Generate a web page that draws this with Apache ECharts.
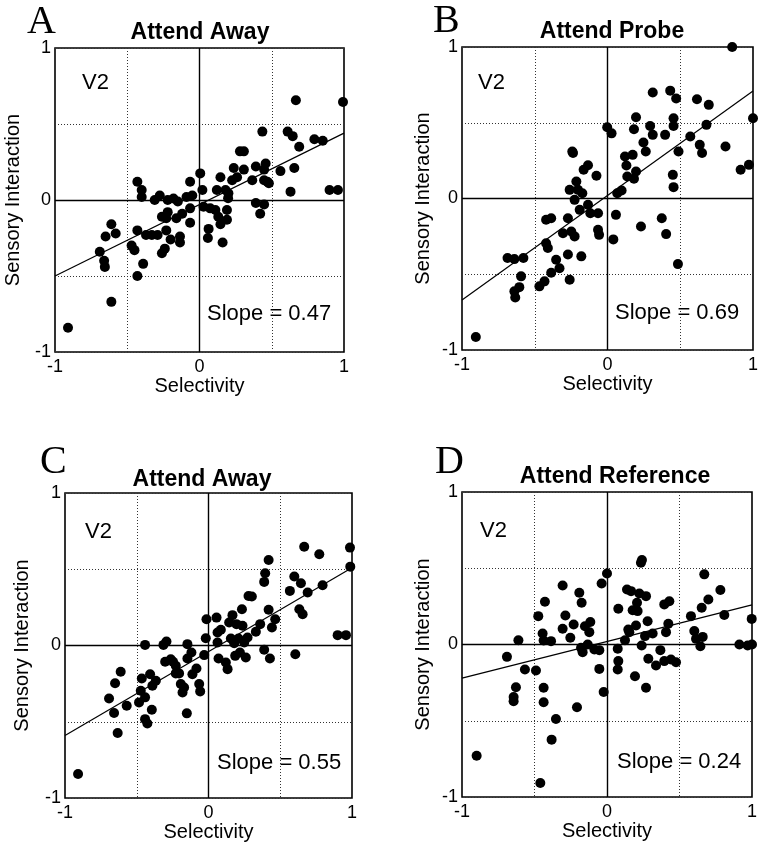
<!DOCTYPE html>
<html>
<head>
<meta charset="utf-8">
<script src="https://cdn.jsdelivr.net/npm/echarts@6/dist/echarts.min.js"></script>
<style>
html,body{margin:0;padding:0;background:#fff;}
#chart{width:762px;height:845px;}
</style>
</head>
<body>
<div id="chart"></div>
<script>
// ---------- DATA ----------
const panelLetters = ['A', 'B', 'C', 'D'];
const panelTitles = ['Attend Away', 'Attend Probe', 'Attend Away', 'Attend Reference'];
const areaLabel = 'V2';
const slopes = [0.47, 0.69, 0.55, 0.24];
const intercepts = [-0.03, 0.02, -0.04, 0.02];
const xTickLabels = ['-1', '0', '1'];
const yTickLabels = ['-1', '0', '1'];
const xAxisTitle = 'Selectivity';
const yAxisTitle = 'Sensory Interaction';

const panelA_selectivity = [-0.91,-0.61,-0.69,-0.66,-0.655,-0.65,-0.61,-0.58,-0.47,-0.45,
  -0.43,-0.39,-0.43,-0.43,-0.40,-0.40,-0.37,-0.33,-0.31,-0.275,
  -0.29,-0.26,-0.24,-0.23,-0.26,-0.22,-0.23,-0.20,-0.22,-0.18,
  -0.16,-0.15,-0.135,-0.135,-0.12,-0.09,-0.065,-0.065,-0.065,-0.05,
  0.005,0.02,0.028,0.074,0.063,0.058,0.11,0.12,0.145,0.13,
  0.145,0.16,0.18,0.19,0.198,0.19,0.2,0.226,0.237,0.26,
  0.28,0.307,0.307,0.365,0.39,0.39,0.42,0.435,0.447,0.447,
  0.447,0.458,0.47,0.48,0.56,0.61,0.645,0.656,0.63,0.667,
  0.69,0.795,0.853,0.9,0.958,0.993];
const panelA_interaction = [-0.84,-0.67,-0.34,-0.40,-0.44,-0.24,-0.16,-0.22,-0.30,-0.33,
  -0.50,-0.42,-0.20,0.12,0.066,0.02,-0.23,-0.23,0.0,0.03,
  -0.23,-0.35,-0.32,-0.12,-0.11,-0.08,-0.20,-0.26,0.0,0.01,
  -0.12,-0.01,-0.24,-0.28,-0.09,0.02,0.12,-0.055,-0.15,0.03,
  0.175,0.066,-0.044,-0.055,-0.19,-0.25,-0.066,0.066,0.15,-0.11,
  -0.16,-0.28,0.066,-0.066,0.011,-0.13,0.044,0.13,0.21,0.15,
  0.32,0.32,0.20,0.13,0.22,-0.02,-0.09,0.45,0.20,0.13,
  -0.03,0.24,0.12,0.11,0.19,0.45,0.42,0.21,0.055,0.656,
  0.35,0.40,0.39,0.066,0.066,0.645];

const panelB_selectivity = [-0.905,-0.687,-0.64,-0.578,-0.594,-0.64,-0.606,-0.634,-0.468,-0.433,
  -0.422,-0.41,-0.422,-0.387,-0.387,-0.353,-0.33,-0.306,-0.272,-0.272,
  -0.26,-0.249,-0.226,-0.18,-0.242,-0.237,-0.26,-0.214,-0.203,-0.226,
  -0.191,-0.173,-0.164,-0.134,-0.134,-0.118,-0.076,-0.065,-0.065,-0.058,
  -0.002,0.028,0.04,0.058,0.067,0.097,0.12,0.13,0.136,0.173,
  0.182,0.196,0.182,0.196,0.23,0.247,0.263,0.293,0.311,0.311,
  0.373,0.396,0.403,0.431,0.449,0.454,0.454,0.454,0.472,0.488,
  0.484,0.569,0.615,0.634,0.65,0.68,0.696,0.811,0.857,0.915,
  0.972,1.0];
const panelB_interaction = [-0.914,-0.393,-0.40,-0.393,-0.514,-0.613,-0.585,-0.653,-0.58,-0.547,
  -0.295,-0.327,-0.14,-0.13,-0.49,-0.404,-0.46,-0.229,-0.13,-0.37,
  -0.536,-0.218,-0.25,-0.382,0.31,0.30,0.057,0.112,0.057,-0.009,
  -0.075,0.035,0.19,0.22,-0.042,-0.097,0.15,-0.097,-0.207,-0.24,
  0.47,0.43,-0.27,-0.108,0.035,0.053,0.277,0.218,0.145,0.288,
  0.13,0.178,0.457,0.536,-0.185,0.37,0.31,0.479,0.42,0.70,
  -0.13,0.42,-0.235,0.712,0.156,0.075,0.53,0.479,0.66,0.31,
  -0.433,0.409,0.655,0.354,0.30,0.486,0.618,0.343,1.0,0.19,
  0.222,0.53];

const panelC_selectivity = [-0.909,-0.693,-0.651,-0.612,-0.658,-0.633,-0.57,-0.484,-0.472,-0.465,
  -0.442,-0.442,-0.426,-0.395,-0.407,-0.391,-0.367,-0.442,-0.314,-0.293,
  -0.302,-0.263,-0.247,-0.228,-0.228,-0.205,-0.193,-0.181,-0.17,-0.147,
  -0.151,-0.147,-0.119,-0.112,-0.084,-0.065,-0.058,-0.03,-0.019,-0.014,
  0.056,0.063,0.063,0.07,0.086,0.121,0.133,0.144,0.156,0.167,
  0.179,0.186,0.195,0.209,0.219,0.233,0.237,0.249,0.26,0.272,
  0.279,0.302,0.33,0.36,0.388,0.388,0.395,0.419,0.419,0.428,
  0.442,0.465,0.567,0.598,0.605,0.633,0.644,0.656,0.667,0.691,
  0.772,0.795,0.9,0.958,0.986,0.988];
const panelC_interaction = [-0.843,-0.347,-0.247,-0.172,-0.443,-0.574,-0.395,-0.373,-0.297,-0.216,
  -0.34,-0.483,-0.511,-0.421,-0.188,-0.264,-0.231,0.004,0.004,0.026,
  -0.107,-0.09,-0.107,-0.133,-0.183,-0.183,-0.253,-0.308,-0.275,0.009,
  -0.445,-0.085,-0.046,-0.188,-0.151,-0.253,-0.301,-0.063,0.048,0.172,
  0.183,0.085,0.02,-0.085,0.103,-0.111,-0.155,0.151,0.046,0.199,
  0.015,-0.068,0.14,0.046,-0.046,0.238,0.129,0.02,-0.079,0.052,
  0.325,0.321,0.09,0.14,-0.028,0.417,0.474,0.561,0.234,-0.085,
  0.118,0.172,0.358,0.452,-0.057,0.238,0.408,0.205,0.648,0.347,
  0.598,0.395,0.068,0.068,0.642,0.517];

const panelD_selectivity = [-0.899,-0.69,-0.644,-0.644,-0.628,-0.611,-0.566,-0.49,-0.474,-0.46,
  -0.444,-0.437,-0.437,-0.437,-0.428,-0.386,-0.382,-0.352,-0.306,-0.306,
  -0.287,-0.253,-0.23,-0.207,-0.191,-0.175,-0.179,-0.168,-0.152,-0.133,
  -0.122,-0.115,-0.087,-0.053,-0.053,-0.037,-0.023,0.0,0.078,0.074,
  0.078,0.074,0.124,0.138,0.147,0.154,0.166,0.177,0.193,0.2,
  0.207,0.211,0.223,0.239,0.241,0.234,0.262,0.269,0.269,0.28,
  0.285,0.315,0.338,0.368,0.395,0.395,0.407,0.423,0.43,0.441,
  0.476,0.579,0.602,0.614,0.644,0.653,0.66,0.671,0.699,0.782,
  0.809,0.913,0.97,1.0,0.998];
const panelD_interaction = [-0.729,-0.081,-0.344,-0.372,-0.28,0.028,-0.164,-0.171,0.186,-0.908,
  0.072,0.026,-0.284,-0.379,0.28,0.022,-0.624,-0.488,0.387,0.103,
  0.19,0.044,0.131,-0.411,0.339,0.274,-0.022,-0.05,0.12,0.0,
  0.081,0.147,-0.033,-0.037,-0.16,0.40,-0.311,0.466,0.234,-0.028,
  -0.109,-0.164,0.028,0.361,0.098,0.081,0.35,0.225,-0.208,0.125,
  0.274,0.219,0.335,-0.007,0.554,0.536,0.055,-0.284,0.317,0.153,
  -0.094,0.072,-0.138,-0.037,-0.109,0.263,0.081,0.136,0.284,-0.098,
  -0.116,0.186,0.088,0.037,-0.011,0.241,0.05,0.46,0.295,0.357,
  0.193,0.0,-0.007,0.0,0.168];

const selectivityData = [panelA_selectivity, panelB_selectivity, panelC_selectivity, panelD_selectivity];
const interactionData = [panelA_interaction, panelB_interaction, panelC_interaction, panelD_interaction];

// ---------- LAYOUT / STYLE ----------
const SANS = '"Liberation Sans", Arial, Helvetica, sans-serif';
const SERIF = '"Liberation Serif", "Times New Roman", serif';
const grids = [
  {left: 55, top: 48, width: 289, height: 304},
  {left: 462, top: 47, width: 291, height: 303},
  {left: 65, top: 493, width: 287, height: 305},
  {left: 462, top: 492, width: 290, height: 305}
];
const yNameGaps = [32, 29, 33, 29];
const letterPos = [[27, 22], [433, 21], [40, 462], [435, 462]];
const titlePos = [[200, 33], [612, 32], [202, 480], [615, 477]];
const v2Pos = [[82, 83], [478, 83], [85, 532], [480, 531]];
const slopePos = [[207, 314], [615, 313], [217, 763], [617, 762]];

function tickFmt(labels) {
  return function (v) {
    const s = String(Math.round(v * 100) / 100);
    return labels.indexOf(s) >= 0 ? s : '';
  };
}

const option = {
  animation: false,
  backgroundColor: '#fff',
  grid: grids.map(g => Object.assign({show: true, borderColor: '#000', borderWidth: 1.6, backgroundColor: 'transparent'}, g)),
  xAxis: grids.map((g, i) => ({
    gridIndex: i, type: 'value', min: -1, max: 1, interval: 0.5,
    axisLine: {show: false}, axisTick: {show: false},
    splitLine: {show: true, lineStyle: {color: '#333', type: [1, 2], width: 1}},
    axisLabel: {formatter: tickFmt(xTickLabels), fontSize: 18, color: '#000', fontFamily: SANS, margin: 6, showMinLabel: true, showMaxLabel: true},
    name: xAxisTitle, nameLocation: 'middle', nameGap: 21,
    nameTextStyle: {fontSize: 20, color: '#000', fontFamily: SANS}
  })),
  yAxis: grids.map((g, i) => ({
    gridIndex: i, type: 'value', min: -1, max: 1, interval: 0.5,
    axisLine: {show: false}, axisTick: {show: false},
    splitLine: {show: true, lineStyle: {color: '#333', type: [1, 2], width: 1}},
    axisLabel: {formatter: tickFmt(yTickLabels), fontSize: 18, color: '#000', fontFamily: SANS, margin: 4, showMinLabel: true, showMaxLabel: true},
    name: yAxisTitle, nameLocation: 'middle', nameGap: yNameGaps[i],
    nameTextStyle: {fontSize: 20, color: '#000', fontFamily: SANS}
  })),
  series: [],
  graphic: []
};

for (let i = 0; i < 4; i++) {
  const pts = selectivityData[i].map((x, k) => [x, interactionData[i][k]]);
  option.series.push({
    type: 'scatter', xAxisIndex: i, yAxisIndex: i, data: pts,
    symbolSize: 10, itemStyle: {color: '#000', opacity: 1}, z: 5,
    markLine: {
      silent: true, symbol: 'none', label: {show: false},
      lineStyle: {color: '#000', type: 'solid', width: 1.4},
      data: [{xAxis: 0}, {yAxis: 0}]
    }
  });
  const m = slopes[i], b = intercepts[i];
  option.series.push({
    type: 'line', xAxisIndex: i, yAxisIndex: i,
    data: [[-1, b - m], [1, b + m]],
    showSymbol: false, symbol: 'none', silent: true,
    lineStyle: {color: '#000', width: 1.2}, z: 4
  });
  option.graphic.push(
    {type: 'text', x: letterPos[i][0], y: letterPos[i][1], style: {text: panelLetters[i], font: '40px ' + SERIF, fill: '#000', align: 'left', verticalAlign: 'middle'}},
    {type: 'text', x: titlePos[i][0], y: titlePos[i][1], style: {text: panelTitles[i], font: 'bold 23px ' + SANS, fill: '#000', align: 'center', verticalAlign: 'middle'}},
    {type: 'text', x: v2Pos[i][0], y: v2Pos[i][1], style: {text: areaLabel, font: '22px ' + SANS, fill: '#000', align: 'left', verticalAlign: 'middle'}, z: 10},
    {type: 'text', x: slopePos[i][0], y: slopePos[i][1], style: {text: 'Slope = ' + slopes[i].toFixed(2), font: '22px ' + SANS, fill: '#000', align: 'left', verticalAlign: 'middle'}, z: 10}
  );
}

const chart = echarts.init(document.getElementById('chart'), null, {renderer: 'canvas'});
chart.setOption(option);
</script>
</body>
</html>
